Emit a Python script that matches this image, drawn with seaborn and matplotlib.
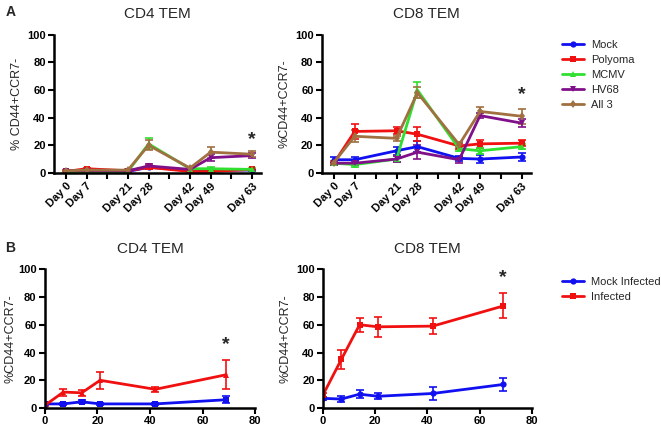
import numpy as np
import pandas as pd
import matplotlib
matplotlib.use("Agg")
import matplotlib.pyplot as plt
import seaborn as sns
from matplotlib.lines import Line2D

sns.set_style("ticks")
plt.rcParams['font.family'] = ['Liberation Sans', 'DejaVu Sans']

# ---- Panel A data (days post infection) ----
days_a = [0, 7, 21, 28, 42, 49, 63]
day_ticks = [0, 7, 14, 21, 28, 35, 42, 49, 56, 63]
day_labels = ['Day 0', 'Day 7', '', 'Day 21', 'Day 28', '', 'Day 42', 'Day 49', '', 'Day 63']
groups_a = ['Mock', 'Polyoma', 'MCMV', 'HV68', 'All 3']

cd4_mock = [1.5, 1.5, 1.0, 4.0, 2.0, 2.0, 2.0]
cd4_poly = [1.0, 3.0, 1.5, 4.0, 1.0, 1.0, 2.5]
cd4_mcmv = [0.5, 1.0, 1.0, 21.0, 3.0, 3.0, 2.5]
cd4_hv68 = [1.5, 1.5, 1.5, 5.0, 2.5, 11.0, 12.5]
cd4_all3 = [1.5, 2.0, 2.0, 20.0, 3.5, 15.0, 13.5]
cd4_mock_err = [0.5, 0.5, 0.5, 1.0, 0.5, 0.5, 0.5]
cd4_poly_err = [0.5, 0.8, 0.5, 1.0, 0.5, 0.5, 0.5]
cd4_mcmv_err = [0.3, 0.5, 0.5, 4.0, 1.0, 1.0, 0.8]
cd4_hv68_err = [0.5, 0.5, 0.5, 1.5, 1.0, 2.5, 2.0]
cd4_all3_err = [0.5, 0.5, 0.5, 3.5, 1.0, 4.0, 2.0]

cd8_mock = [9.5, 9.5, 16.0, 19.0, 10.5, 10.0, 11.5]
cd8_poly = [7.0, 30.0, 30.5, 28.0, 19.5, 21.0, 21.5]
cd8_mcmv = [7.0, 6.0, 10.0, 60.0, 17.5, 16.0, 19.0]
cd8_hv68 = [7.0, 7.0, 10.0, 15.0, 9.5, 41.5, 36.0]
cd8_all3 = [7.5, 26.5, 25.0, 58.0, 20.5, 44.5, 41.0]
cd8_mock_err = [2.0, 2.0, 3.0, 4.0, 2.0, 3.0, 3.0]
cd8_poly_err = [1.5, 5.5, 2.5, 5.0, 2.0, 3.0, 2.0]
cd8_mcmv_err = [1.5, 1.5, 2.0, 5.5, 2.0, 2.0, 2.0]
cd8_hv68_err = [1.0, 1.5, 2.0, 5.0, 2.0, 2.0, 3.0]
cd8_all3_err = [1.0, 4.5, 2.0, 4.0, 2.0, 3.0, 5.5]

# ---- Panel B data ----
days_b = [0, 7, 14, 21, 42, 69]
groups_b = ['Mock Infected', 'Infected']

b_cd4_mock = [3.0, 3.0, 4.5, 3.0, 3.0, 6.0]
b_cd4_inf = [2.0, 11.5, 11.0, 20.0, 13.5, 24.0]
b_cd4_mock_err = [1.0, 1.0, 1.0, 0.8, 0.8, 2.5]
b_cd4_inf_err = [0.8, 2.5, 2.0, 6.0, 2.0, 10.5]

b_cd8_mock = [7.0, 6.5, 10.0, 8.5, 10.5, 17.0]
b_cd8_inf = [9.5, 35.0, 60.0, 58.5, 59.0, 73.5]
b_cd8_mock_err = [1.0, 2.0, 3.0, 2.0, 5.0, 5.0]
b_cd8_inf_err = [1.5, 7.0, 5.0, 7.0, 6.0, 9.0]

colors_a = ['#1010f0', '#f01010', '#30e030', '#80108a', '#a07040']
markers_a = ['o', 's', '^', 'v', 'd']
colors_b = ['#1010f0', '#f01010']


def draw_panel(ax, x, series, errs, names, colors, markers, ms=4.5):
    rows = []
    for name, vals in zip(names, series):
        for xi, v in zip(x, vals):
            rows.append({'x': xi, 'y': v, 'group': name})
    df = pd.DataFrame(rows)
    sns.lineplot(data=df, x='x', y='y', hue='group', style='group',
                 hue_order=names, style_order=names,
                 palette=dict(zip(names, colors)),
                 markers=dict(zip(names, markers)), dashes=False,
                 markersize=ms, markeredgewidth=0, linewidth=2,
                 legend=False, ax=ax)
    for vals, err, c in zip(series, errs, colors):
        ax.errorbar(x, vals, yerr=err, fmt='none', ecolor=c,
                    elinewidth=1.2, capsize=3, capthick=1.2, zorder=1.5)


def style_axes(ax, title, ylabel):
    ax.set_ylim(0, 100)
    ax.set_yticks([0, 20, 40, 60, 80, 100])
    ax.set_title(title, fontsize=11, pad=12)
    ax.set_ylabel(ylabel, fontsize=9, labelpad=3)
    ax.set_xlabel('')
    for s in ['top', 'right']:
        ax.spines[s].set_visible(False)
    for s in ['left', 'bottom']:
        ax.spines[s].set_linewidth(1.8)
        ax.spines[s].set_color('black')
    ax.tick_params(width=1.5, length=4, labelsize=8, colors='black', pad=2)
    for lbl in ax.get_yticklabels():
        lbl.set_fontweight('bold')


fig = plt.figure(figsize=(6.61, 4.30), dpi=100)
ax1 = fig.add_axes([0.0817, 0.598, 0.313, 0.321])
ax2 = fig.add_axes([0.487, 0.598, 0.316, 0.321])
ax3 = fig.add_axes([0.068, 0.051, 0.318, 0.323])
ax4 = fig.add_axes([0.4887, 0.051, 0.316, 0.323])

# Panel A
draw_panel(ax1, days_a, [cd4_mock, cd4_poly, cd4_mcmv, cd4_hv68, cd4_all3],
           [cd4_mock_err, cd4_poly_err, cd4_mcmv_err, cd4_hv68_err, cd4_all3_err],
           groups_a, colors_a, markers_a)
draw_panel(ax2, days_a, [cd8_mock, cd8_poly, cd8_mcmv, cd8_hv68, cd8_all3],
           [cd8_mock_err, cd8_poly_err, cd8_mcmv_err, cd8_hv68_err, cd8_all3_err],
           groups_a, colors_a, markers_a)
style_axes(ax1, 'CD4 TEM', '% CD44+CCR7-')
style_axes(ax2, 'CD8 TEM', '%CD44+CCR7-')
for ax in (ax1, ax2):
    ax.set_xlim(-4, 66)
    ax.set_xticks(day_ticks)
    ax.set_xticklabels(day_labels, rotation=45, ha='right',
                       rotation_mode='anchor', fontweight='bold', fontsize=8)

# Panel B
draw_panel(ax3, days_b, [b_cd4_mock, b_cd4_inf], [b_cd4_mock_err, b_cd4_inf_err],
           groups_b, colors_b, ['s', '^'])
draw_panel(ax4, days_b, [b_cd8_mock, b_cd8_inf], [b_cd8_mock_err, b_cd8_inf_err],
           groups_b, colors_b, ['o', 's'])
style_axes(ax3, 'CD4 TEM', '%CD44+CCR7-')
style_axes(ax4, 'CD8 TEM', '%CD44+CCR7-')
ax3.set_ylabel('%CD44+CCR7-', fontsize=9, labelpad=1)
for ax in (ax3, ax4):
    ax.set_xlim(0, 80)
    ax.set_xticks([0, 20, 40, 60, 80])
    for lbl in ax.get_xticklabels():
        lbl.set_fontweight('bold')

# significance stars
ax1.text(63, 24, '*', ha='center', va='center', fontsize=14, fontweight='bold')
ax2.text(63, 57, '*', ha='center', va='center', fontsize=14, fontweight='bold')
ax3.text(69, 46, '*', ha='center', va='center', fontsize=14, fontweight='bold')
ax4.text(69, 94, '*', ha='center', va='center', fontsize=14, fontweight='bold')

# panel letters
fig.text(0.008, 1 - 12 / 430, 'A', fontsize=10, fontweight='bold', va='center')
fig.text(0.008, 1 - 248 / 430, 'B', fontsize=10, fontweight='bold', va='center')

# legends
h_a = [Line2D([], [], color=c, marker=m, markersize=4.5, markeredgewidth=0, linewidth=2)
       for c, m in zip(colors_a, markers_a)]
fig.legend(h_a, groups_a, loc='upper left', bbox_to_anchor=(0.835, 0.93),
           frameon=False, fontsize=8, handlelength=2.0, labelspacing=0.45,
           handletextpad=0.6)
h_b = [Line2D([], [], color=c, marker=m, markersize=4.5, markeredgewidth=0, linewidth=2)
       for c, m in zip(colors_b, ['o', 's'])]
fig.legend(h_b, groups_b, loc='upper left', bbox_to_anchor=(0.835, 0.38),
           frameon=False, fontsize=8, handlelength=2.0, labelspacing=0.45,
           handletextpad=0.6)

fig.savefig('out.png', dpi=100)
